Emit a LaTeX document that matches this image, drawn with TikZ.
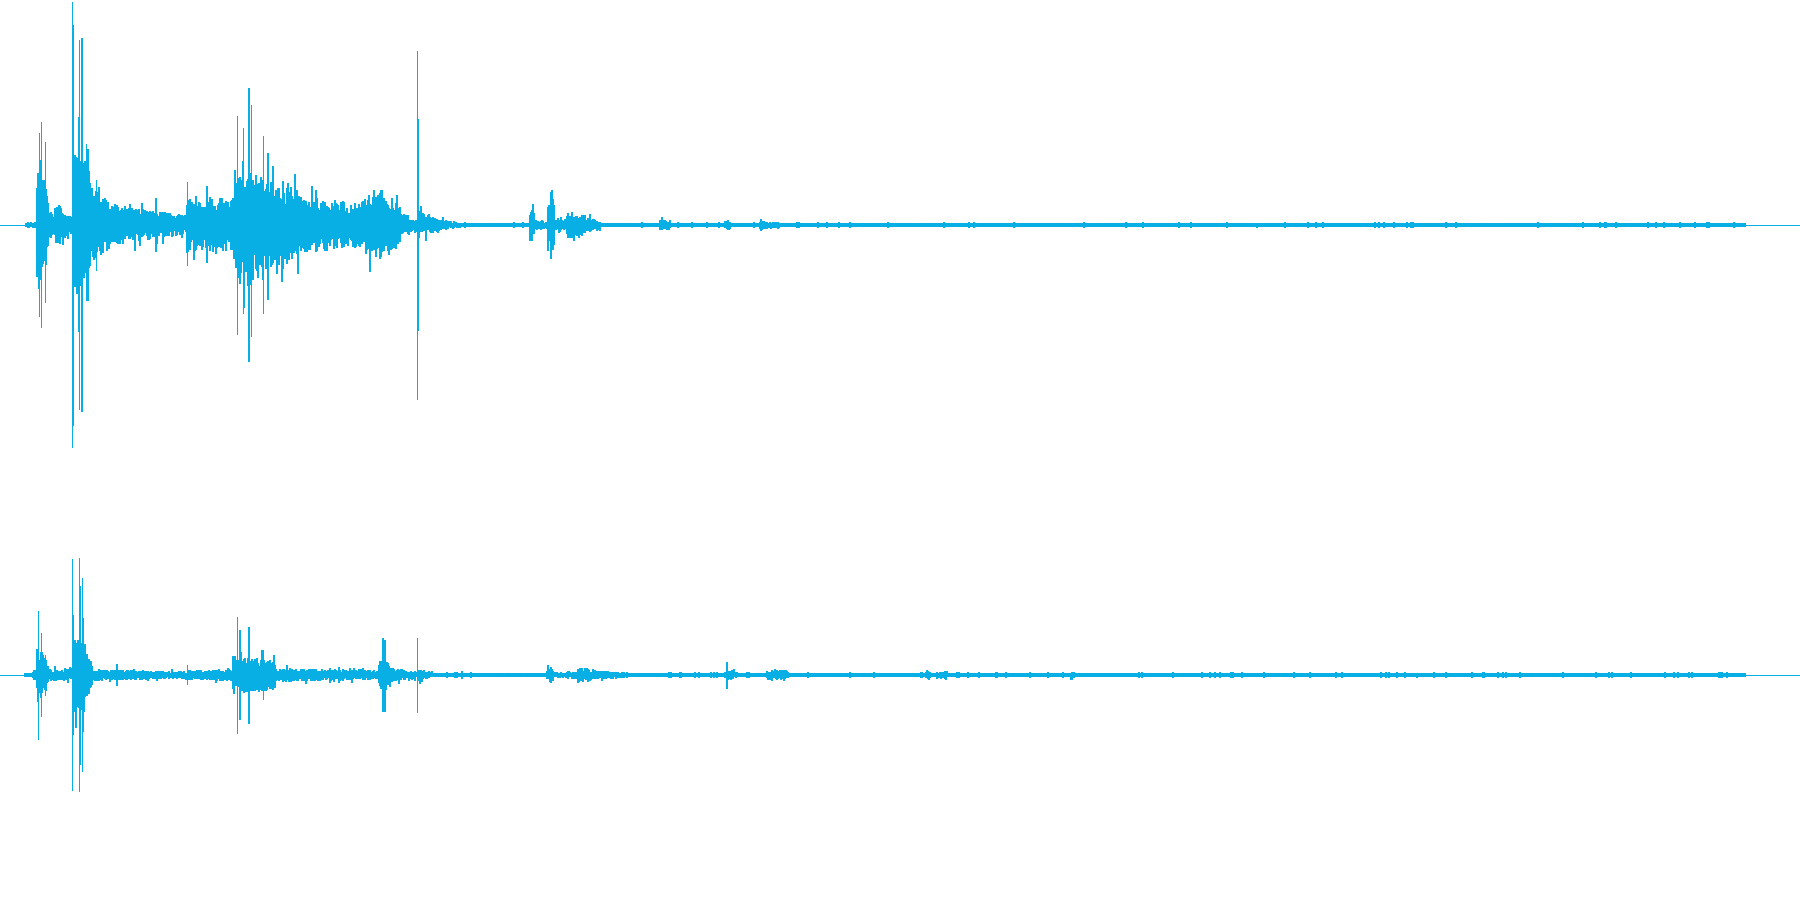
\documentclass[tikz,border=0pt]{standalone}
\definecolor{wave}{RGB}{7,175,228}
\tikzset{
  wv/.style={draw=wave, line width=1.15pt, line cap=butt},
  band/.style={draw=wave, line width=3.7pt, line cap=butt},
  thin/.style={draw=wave, line width=1pt},
}
% channel centre, x1, x2, amplitude at x1, amplitude at x2
\newcommand\wseg[5]{%
  \foreach \x in {#2,...,#3}{%
    \pgfmathsetmacro\wA{#4+(#5-#4)*(\x-#2)/max(#3-#2,1)}%
    \pgfmathsetmacro\wu{\wA*(0.45+0.55*rnd)*(rnd<0.08?1.5:1)}%
    \pgfmathsetmacro\wd{\wA*(0.45+0.55*rnd)*(rnd<0.08?1.5:1)}%
    \draw[wv] (\x,#1-\wu) -- (\x,#1+\wd);
  }}
% quiet stretch: sparse small ticks. centre, x1, x2, tick amplitude
\newcommand\wq[4]{%
  \foreach \x in {#2,...,#3}{%
    \pgfmathtruncatemacro\wt{rnd<0.09?1:0}%
    \ifnum\wt=1
      \pgfmathsetmacro\wu{#4*(0.8+0.25*rnd)}%
      \draw[wv] (\x,#1-\wu) -- (\x,#1+\wu);
    \fi
  }}
% channel centre, x, up, down
\newcommand\wspk[4]{\draw[wv] (#2,#1-#3) -- (#2,#1+#4);}
\begin{document}
\begin{tikzpicture}[x=1pt,y=-1pt]
\pgfmathsetseed{4711}
\useasboundingbox (0,0) rectangle (1800,900);
\fill[white] (0,0) rectangle (1800,900);
% ---------------- channel 1 ----------------
\coordinate (c1l) at (0,225);
\coordinate (c1r) at (1800,225);
\coordinate (b1l) at (25,225);
\coordinate (b1r) at (1746,225);
\draw[thin] (c1l) -- (c1r);
\draw[band] (b1l) -- (b1r);
\foreach \a/\b/\p/\q in {
  28/36/3/3, 37/39/55/62, 39/46/68/55, 46/48/40/25,
  48/55/14/12, 55/63/18/22, 63/71/14/14,
  74/90/72/62, 90/92/48/42, 92/110/38/25, 110/150/22/15, 150/186/15/10,
  187/200/30/25, 200/233/25/30,
  233/240/35/60, 240/262/66/55, 262/275/50/42,
  275/300/42/33, 300/360/30/22, 360/380/25/40, 380/400/40/20,
  400/416/12/8, 419/440/14/6, 440/460/6/3,
  530/534/14/14, 534/548/5/5, 548/554/28/24, 554/567/8/6,
  567/580/14/12, 580/600/12/4, 660/670/6/5,
  725/730/6/5, 760/765/7/6, 765/780/4/3}
  {\wseg{225}{\a}{\b}{\p}{\q}}
\foreach \a/\b in {460/530, 600/660, 670/725, 730/760, 780/1745}
  {\wq{225}{\a}{\b}{2.8}}
\foreach \x/\u/\d in {
  39.3/92/92, 41.3/103/103, 45.3/83/78,
  72.5/223/223, 73.3/200/201,
  78.3/108/107, 79.3/185/185, 82/187/187, 82.7/135/136, 86.7/81/76, 88/76/76,
  96.7/45/46, 156/27/27,
  187.5/43/41, 196/29/25, 207/39/38,
  237.3/109/110, 243.4/97/89, 249/137/137, 251.5/120/112, 263.3/89/89, 268/72/75,
  283/44/44,
  417.2/174/175, 418.3/106/106,
  532/15/16, 551/33/34, 553/26/25}
  {\wspk{225}{\x}{\u}{\d}}
% ---------------- channel 2 ----------------
\coordinate (c2l) at (0,675);
\coordinate (c2r) at (1800,675);
\coordinate (b2l) at (24,675);
\coordinate (b2r) at (1746,675);
\draw[thin] (c2l) -- (c2r);
\draw[band] (b2l) -- (b2r);
\foreach \a/\b/\p/\q in {
  33/37/5/6, 37/46/28/24, 46/48/15/10,
  48/71/6/6, 74/85/38/35, 85/92/28/16,
  92/186/6/4, 187/233/5/6,
  233/275/20/15, 275/379/7/5, 379/390/15/13, 390/406/8/5, 406/416/5/4,
  418/432/7/3, 547/553/8/7, 553/567/3/3, 567/577/4/4,
  578/598/8/6, 598/627/5/3, 728/737/6/3,
  767/787/6/5, 926/930/5/5,
  937/947/4/4, 1071/1074/5/5}
  {\wseg{675}{\a}{\b}{\p}{\q}}
\foreach \a/\b in {24/33, 432/546, 627/726, 737/767, 787/926, 930/937, 947/1071, 1074/1745}
  {\wq{675}{\a}{\b}{2.8}}
\foreach \x/\u/\d in {
  38.3/64/65, 41.3/42/42, 45.3/20/21,
  72.3/116/116, 73.5/60/60, 79.2/117/117, 80.8/89/90, 82.3/97/97, 83.8/57/57,
  117/11/11, 187.5/10/10,
  237.3/58/59, 240/45/45, 249/48/49, 263.3/25/25,
  383/37/37, 385/35/37, 417.2/37/38, 462/4/4,
  551/8/8, 727/13/14}
  {\wspk{675}{\x}{\u}{\d}}
\end{tikzpicture}
\end{document}
